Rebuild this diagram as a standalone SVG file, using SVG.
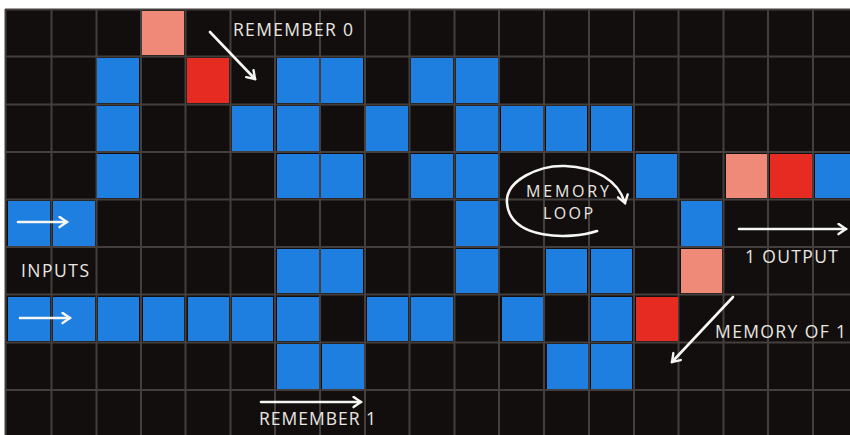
<svg xmlns="http://www.w3.org/2000/svg" width="850" height="435" viewBox="0 0 850 435">
<style>
.b{fill:#1e7fe0}.r{fill:#e52b22}.p{fill:#f08a78}
.g{stroke:#443f3c;stroke-width:2;fill:none}
.a{stroke:#f6f6f2;stroke-width:2.6;fill:none;stroke-linecap:round}
text{font-family:"Open Sans","Noto Sans","Liberation Sans",sans-serif;font-size:17.5px;fill:#e9e7e2}
.s{font-size:16px}
</style>
<defs>
<marker id="h" viewBox="0 0 14 14" refX="12" refY="7" markerWidth="13" markerHeight="13" markerUnits="userSpaceOnUse" orient="auto">
<path d="M4 1.500L12 7L4 12.500" fill="none" stroke="#f6f6f2" stroke-width="2.6" stroke-linecap="round"/>
</marker>
</defs>
<rect width="850" height="435" fill="#fff"/>
<rect x="5" y="9" width="845" height="426" fill="#110e0d"/>
<g id="grid">
<path class="g" d="M5 9.500H850M5 56.500H850M5 104.500H850M5 152H850M5 199.500H850M5 247H850M5 294.500H850M5 342.500H850M5 390H850"/>
<path class="g" d="M5.500 9V435M51.500 9V435M96.500 9V435M141 9V435M185.500 9V435M230.500 9V435M275 9V435M320 9V435M365 9V435M409.500 9V435M454.500 9V435M499 9V435M544 9V435M589 9V435M634 9V435M678.500 9V435M723.500 9V435M768 9V435M813 9V435"/>
</g>
<g id="cells">
<rect class="p" x="142" y="11" width="42" height="44"/>
<rect class="b" x="97" y="58" width="42" height="45"/><rect class="r" x="187" y="58" width="42" height="45"/><rect class="b" x="277" y="58" width="42" height="45"/><rect class="b" x="321" y="58" width="42" height="45"/><rect class="b" x="411" y="58" width="42" height="45"/><rect class="b" x="456" y="58" width="42" height="45"/>
<rect class="b" x="97" y="106" width="42" height="45"/><rect class="b" x="232" y="106" width="41" height="45"/><rect class="b" x="277" y="106" width="42" height="45"/><rect class="b" x="366" y="106" width="42" height="45"/><rect class="b" x="456" y="106" width="42" height="45"/><rect class="b" x="501" y="106" width="42" height="45"/><rect class="b" x="546" y="106" width="41" height="45"/><rect class="b" x="591" y="106" width="41" height="45"/>
<rect class="b" x="97" y="154" width="42" height="44"/><rect class="b" x="277" y="154" width="42" height="44"/><rect class="b" x="321" y="154" width="42" height="44"/><rect class="b" x="411" y="154" width="42" height="44"/><rect class="b" x="456" y="154" width="42" height="44"/><rect class="b" x="636" y="154" width="41" height="44"/><rect class="p" x="726" y="154" width="41" height="44"/><rect class="r" x="770" y="154" width="42" height="44"/><rect class="b" x="815" y="154" width="35" height="44"/>
<rect class="b" x="8" y="201" width="42" height="45"/><rect class="b" x="53" y="201" width="42" height="45"/><rect class="b" x="456" y="201" width="42" height="45"/><rect class="b" x="681" y="201" width="41" height="45"/>
<rect class="b" x="277" y="249" width="42" height="44"/><rect class="b" x="321" y="249" width="42" height="44"/><rect class="b" x="456" y="249" width="42" height="44"/><rect class="b" x="546" y="249" width="41" height="44"/><rect class="b" x="591" y="249" width="41" height="44"/><rect class="p" x="681" y="249" width="41" height="44"/>
<rect class="b" x="8" y="297" width="42" height="44"/><rect class="b" x="53" y="297" width="42" height="44"/><rect class="b" x="98" y="297" width="41" height="44"/><rect class="b" x="143" y="297" width="41" height="44"/><rect class="b" x="188" y="297" width="41" height="44"/><rect class="b" x="232" y="297" width="41" height="44"/><rect class="b" x="277" y="297" width="42" height="44"/><rect class="b" x="367" y="297" width="41" height="44"/><rect class="b" x="411" y="297" width="42" height="44"/><rect class="b" x="502" y="297" width="41" height="44"/><rect class="b" x="591" y="297" width="41" height="44"/><rect class="r" x="636" y="297" width="42" height="44"/>
<rect class="b" x="277" y="344" width="42" height="45"/><rect class="b" x="322" y="344" width="42" height="45"/><rect class="b" x="547" y="344" width="41" height="45"/><rect class="b" x="591" y="344" width="41" height="45"/>
</g>
<g id="connectors">
<path class="a" marker-end="url(#h)" d="M210 32L255 79"/>
<path class="a" marker-end="url(#h)" d="M18 222H67"/>
<path class="a" marker-end="url(#h)" d="M20 318H70"/>
<path class="a" marker-end="url(#h)" d="M261 402H361"/>
<path class="a" marker-end="url(#h)" d="M739 229H846"/>
<path class="a" marker-end="url(#h)" d="M733 297L672 362"/>
<path class="a" marker-end="url(#h)" d="M597 231C570 240 510 240 507 203C505 180 540 165 565 166C595 167 618 180 625 203"/>
</g>
<g id="labels">
<text id="remember-0" x="233" y="36" textLength="120" lengthAdjust="spacing">REMEMBER 0</text>
<text id="inputs" x="21" y="277" textLength="68" lengthAdjust="spacing">INPUTS</text>
<text id="memory" class="s" x="526" y="197" textLength="83" lengthAdjust="spacing">MEMORY</text>
<text id="loop" class="s" x="543" y="219" textLength="50" lengthAdjust="spacing">LOOP</text>
<text id="output" x="745" y="263" textLength="93" lengthAdjust="spacing">1 OUTPUT</text>
<text id="memory-of-1" x="715" y="338" textLength="131" lengthAdjust="spacing">MEMORY OF 1</text>
<text id="remember-1" x="259" y="425" textLength="117" lengthAdjust="spacing">REMEMBER 1</text>
</g>
</svg>
